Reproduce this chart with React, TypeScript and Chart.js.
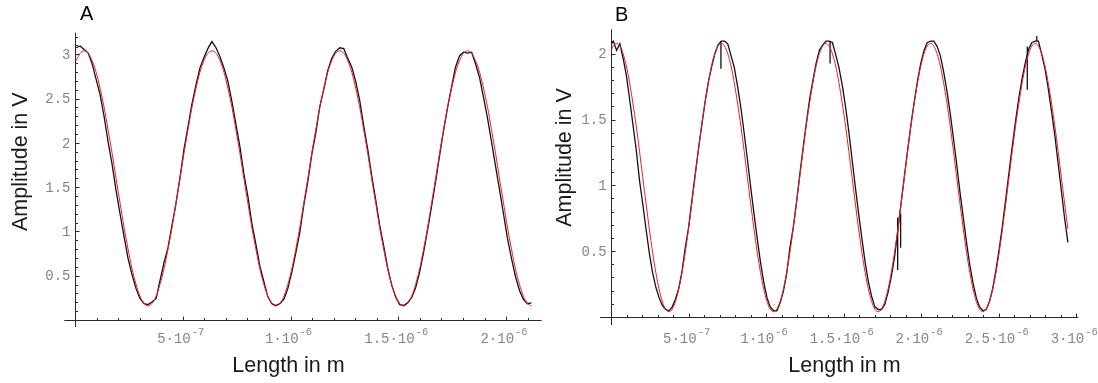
import React, { useEffect, useRef } from 'react';
import { Chart, registerables } from 'chart.js';
Chart.register(...registerables);

// ---------- Panel A (lengths in micrometres, amplitudes in V) ----------
const lengthA_um = [
  0.003, 0.021, 0.040, 0.059, 0.077, 0.096, 0.114, 0.133, 0.151, 0.170,
  0.188, 0.207, 0.225, 0.244, 0.262, 0.281, 0.299, 0.318, 0.336, 0.355,
  0.374, 0.392, 0.411, 0.429, 0.448, 0.466, 0.485, 0.503, 0.522, 0.540,
  0.559, 0.577, 0.596, 0.614, 0.633, 0.652, 0.670, 0.689, 0.707, 0.726,
  0.744, 0.763, 0.781, 0.800, 0.818, 0.837, 0.855, 0.874, 0.892, 0.911,
  0.929, 0.948, 0.967, 0.985, 1.004, 1.022, 1.041, 1.059, 1.078, 1.096,
  1.115, 1.133, 1.152, 1.170, 1.189, 1.207, 1.226, 1.245, 1.263, 1.282,
  1.300, 1.319, 1.337, 1.356, 1.374, 1.393, 1.411, 1.430, 1.448, 1.467,
  1.485, 1.504, 1.522, 1.541, 1.560, 1.578, 1.597, 1.615, 1.634, 1.652,
  1.671, 1.689, 1.708, 1.726, 1.745, 1.763, 1.782, 1.800, 1.819, 1.838,
  1.856, 1.875, 1.893, 1.912, 1.930, 1.949, 1.967, 1.986, 2.004, 2.023,
  2.041, 2.060, 2.078, 2.097, 2.115,
];
const fitA = [
  2.935, 3.017,
  3.045, 3.017, 2.935, 2.802, 2.623, 2.405, 2.156, 1.886, 1.605, 1.324, 1.054, 0.805, 0.587, 0.408, 0.275, 0.193,
  0.165, 0.193, 0.275, 0.408, 0.587, 0.805, 1.054, 1.324, 1.605, 1.886, 2.156, 2.405, 2.623, 2.802, 2.935, 3.017,
  3.045, 3.017, 2.935, 2.802, 2.623, 2.405, 2.156, 1.886, 1.605, 1.324, 1.054, 0.805, 0.587, 0.408, 0.275, 0.193,
  0.165, 0.193, 0.275, 0.408, 0.587, 0.805, 1.054, 1.324, 1.605, 1.886, 2.156, 2.405, 2.623, 2.802, 2.935, 3.017,
  3.045, 3.017, 2.935, 2.802, 2.623, 2.405, 2.156, 1.886, 1.605, 1.324, 1.054, 0.805, 0.587, 0.408, 0.275, 0.193,
  0.165, 0.193, 0.275, 0.408, 0.587, 0.805, 1.054, 1.324, 1.605, 1.886, 2.156, 2.405, 2.623, 2.802, 2.935, 3.017,
  3.045, 3.017, 2.935, 2.802, 2.623, 2.405, 2.156, 1.886, 1.605, 1.324, 1.054, 0.805, 0.587, 0.408, 0.275, 0.193,
  0.165,
];
const measA = [
  3.08, 3.10, 3.06, 3.02, 2.90, 2.72, 2.55, 2.30, 2.02, 1.76, 1.47, 1.20, 0.95, 0.70, 0.52, 0.36, 0.25, 0.19, 0.18,
  0.21, 0.25, 0.45, 0.66, 0.82, 1.08, 1.32, 1.62, 1.93, 2.19, 2.44, 2.66, 2.85, 2.97, 3.07, 3.15,
  3.08, 2.98, 2.85, 2.70, 2.47, 2.22, 1.96, 1.66, 1.40, 1.10, 0.86, 0.62, 0.44, 0.27, 0.19, 0.17,
  0.19, 0.24, 0.36, 0.55, 0.76, 1.00, 1.30, 1.57, 1.87, 2.12, 2.41, 2.61, 2.82, 2.96, 3.04, 3.08,
  3.07, 2.96, 2.86, 2.70, 2.48, 2.20, 1.93, 1.64, 1.36, 1.08, 0.84, 0.60, 0.40, 0.27, 0.18, 0.17,
  0.20, 0.26, 0.37, 0.55, 0.77, 1.03, 1.29, 1.57, 1.86, 2.15, 2.40, 2.64, 2.86, 2.99, 3.03, 3.02,
  3.03, 2.90, 2.74, 2.52, 2.28, 2.02, 1.74, 1.48, 1.20, 0.93, 0.70, 0.50, 0.34, 0.24, 0.19, 0.20,
];

// ---------- Panel B ----------
const lengthB_um = [
  0.000, 0.011, 0.032, 0.053, 0.074, 0.095, 0.116, 0.137, 0.159, 0.180,
  0.201, 0.222, 0.243, 0.264, 0.285, 0.306, 0.327, 0.348, 0.370, 0.391,
  0.412, 0.433, 0.454, 0.475, 0.496, 0.517, 0.538, 0.559, 0.580, 0.602,
  0.623, 0.644, 0.665, 0.686, 0.707, 0.728, 0.749, 0.770, 0.791, 0.812,
  0.834, 0.855, 0.876, 0.897, 0.918, 0.939, 0.960, 0.981, 1.002, 1.023,
  1.045, 1.066, 1.087, 1.108, 1.129, 1.150, 1.171, 1.192, 1.213, 1.234,
  1.255, 1.277, 1.298, 1.319, 1.340, 1.361, 1.382, 1.403, 1.424, 1.445,
  1.466, 1.487, 1.509, 1.530, 1.551, 1.572, 1.593, 1.614, 1.635, 1.656,
  1.677, 1.698, 1.720, 1.741, 1.762, 1.783, 1.804, 1.825, 1.846, 1.867,
  1.888, 1.909, 1.930, 1.952, 1.973, 1.994, 2.015, 2.036, 2.057, 2.078,
  2.099, 2.120, 2.141, 2.163, 2.184, 2.205, 2.226, 2.247, 2.268, 2.289,
  2.310, 2.331, 2.352, 2.373, 2.395, 2.416, 2.437, 2.458, 2.479, 2.500,
  2.521, 2.542, 2.563, 2.584, 2.605, 2.627, 2.648, 2.669, 2.690, 2.711,
  2.732, 2.753, 2.774, 2.795, 2.816, 2.837, 2.859, 2.880, 2.901, 2.922,
  2.943,
];
const fitB = [
  2.038, 2.063,
  2.083, 2.063, 2.005, 1.911, 1.784, 1.630, 1.453, 1.262, 1.063, 0.864, 0.673, 0.496, 0.342, 0.215, 0.121, 0.063,
  0.043, 0.063, 0.121, 0.215, 0.342, 0.496, 0.673, 0.864, 1.063, 1.262, 1.453, 1.630, 1.784, 1.911, 2.005, 2.063,
  2.083, 2.063, 2.005, 1.911, 1.784, 1.630, 1.453, 1.262, 1.063, 0.864, 0.673, 0.496, 0.342, 0.215, 0.121, 0.063,
  0.043, 0.063, 0.121, 0.215, 0.342, 0.496, 0.673, 0.864, 1.063, 1.262, 1.453, 1.630, 1.784, 1.911, 2.005, 2.063,
  2.083, 2.063, 2.005, 1.911, 1.784, 1.630, 1.453, 1.262, 1.063, 0.864, 0.673, 0.496, 0.342, 0.215, 0.121, 0.063,
  0.043, 0.063, 0.121, 0.215, 0.342, 0.496, 0.673, 0.864, 1.063, 1.262, 1.453, 1.630, 1.784, 1.911, 2.005, 2.063,
  2.083, 2.063, 2.005, 1.911, 1.784, 1.630, 1.453, 1.262, 1.063, 0.864, 0.673, 0.496, 0.342, 0.215, 0.121, 0.063,
  0.043, 0.063, 0.121, 0.215, 0.342, 0.496, 0.673, 0.864, 1.063, 1.262, 1.453, 1.630, 1.784, 1.911, 2.005, 2.063,
  2.083, 2.063, 2.005, 1.911, 1.784, 1.630, 1.453, 1.262, 1.063, 0.864, 0.673,
];
const measB = [
  2.08, 2.10, 2.03, 2.08, 1.97, 1.84, 1.66, 1.47, 1.27, 1.04, 0.86, 0.67, 0.49, 0.34, 0.23, 0.15, 0.09, 0.06,
  0.05, 0.08, 0.14, 0.22, 0.35, 0.53, 0.68, 0.88, 1.08, 1.27, 1.45, 1.63, 1.78, 1.90, 2.00, 2.07,
  2.10, 2.10, 2.08, 1.99, 1.90, 1.76, 1.59, 1.40, 1.20, 0.99, 0.79, 0.60, 0.42, 0.27, 0.15, 0.08,
  0.05, 0.05, 0.11, 0.20, 0.33, 0.53, 0.68, 0.87, 1.08, 1.28, 1.47, 1.66, 1.80, 1.93, 2.03, 2.07,
  2.10, 2.10, 2.09, 2.00, 1.90, 1.77, 1.60, 1.41, 1.20, 0.99, 0.79, 0.60, 0.42, 0.27, 0.16, 0.08,
  0.06, 0.06, 0.10, 0.19, 0.31, 0.46, 0.66, 0.87, 1.07, 1.27, 1.46, 1.64, 1.80, 1.93, 2.03, 2.09,
  2.10, 2.10, 2.06, 1.99, 1.87, 1.72, 1.55, 1.36, 1.16, 0.95, 0.76, 0.57, 0.40, 0.26, 0.15, 0.08,
  0.05, 0.06, 0.12, 0.22, 0.36, 0.52, 0.70, 0.90, 1.10, 1.30, 1.49, 1.67, 1.82, 1.94, 2.04, 2.09,
  2.10, 2.10, 2.00, 1.89, 1.74, 1.57, 1.38, 1.17, 0.96, 0.75, 0.57,
];
// short glitches in the measured trace of B
const glitchB_um = [0.705, 1.409, 1.845, 1.864, 2.681, 2.742];
const glitchB_from = [2.10, 2.10, 0.76, 0.79, 2.06, 2.10];
const glitchB_to = [1.89, 1.93, 0.36, 0.53, 1.73, 2.14];

// ---------- tick labels ----------
const yTicksA = [0.5, 1, 1.5, 2, 2.5, 3];
const yTickLabelsA = ['0.5', '1', '1.5', '2', '2.5', '3'];
const xTicksA = [5e-7, 1e-6, 1.5e-6, 2e-6];
const xTickMantA = ['5·10', '1·10', '1.5·10', '2·10'];
const xTickExpA = ['-7', '-6', '-6', '-6'];

const yTicksB = [0.5, 1, 1.5, 2];
const yTickLabelsB = ['0.5', '1', '1.5', '2'];
const xTicksB = [5e-7, 1e-6, 1.5e-6, 2e-6, 2.5e-6, 3e-6];
const xTickMantB = ['5·10', '1·10', '1.5·10', '2·10', '2.5·10', '3·10'];
const xTickExpB = ['-7', '-6', '-6', '-6', '-6', '-6'];

const RED = '#ee1c25';
const BLACK = '#111111';
const TICK_FONT = '"Liberation Mono", "DejaVu Sans Mono", monospace';
const TITLE_FONT = '"Liberation Sans", Arial, sans-serif';

const mathAxes = {
  id: 'mathAxes',
  beforeDatasetsDraw(chart: any, _a: any, o: any) {
    const ctx = chart.ctx;
    const xs = chart.scales.x;
    const ys = chart.scales.y;
    const ca = chart.chartArea;
    const x0 = Math.round(xs.getPixelForValue(0) - 0.5) + 0.5;
    const y0 = Math.round(ys.getPixelForValue(0) - 0.5) + 0.5;
    ctx.save();
    ctx.strokeStyle = '#2a2a2a';
    ctx.lineWidth = 1;
    ctx.beginPath();
    ctx.moveTo(ca.left, y0);
    ctx.lineTo(ca.right, y0);
    ctx.moveTo(x0, ca.top);
    ctx.lineTo(x0, ca.bottom);
    for (let i = 1; i <= o.xMinorCount; i++) {
      const px = Math.round(xs.getPixelForValue(i * o.xMinorStep) - 0.5) + 0.5;
      const len = i % 5 === 0 ? 4 : 2.5;
      ctx.moveTo(px, y0);
      ctx.lineTo(px, y0 - len);
    }
    for (let i = 1; i <= o.yMinorCount; i++) {
      const py = Math.round(ys.getPixelForValue(i * o.yMinorStep) - 0.5) + 0.5;
      const len = i % 5 === 0 ? 4 : 2.5;
      ctx.moveTo(x0, py);
      ctx.lineTo(x0 + len, py);
    }
    ctx.stroke();
    ctx.restore();
  },
  afterDraw(chart: any, _a: any, o: any) {
    const ctx = chart.ctx;
    const xs = chart.scales.x;
    const ys = chart.scales.y;
    const x0 = xs.getPixelForValue(0);
    ctx.save();
    ctx.fillStyle = '#858585';
    // y tick labels
    ctx.font = `14px ${TICK_FONT}`;
    ctx.textAlign = 'right';
    ctx.textBaseline = 'middle';
    o.yTicks.forEach((v: number, i: number) => {
      ctx.fillText(o.yLabels[i], x0 - 5, ys.getPixelForValue(v) + 0.5);
    });
    // x tick labels with exponent
    ctx.textAlign = 'left';
    ctx.textBaseline = 'alphabetic';
    o.xTicks.forEach((v: number, i: number) => {
      ctx.font = `14px ${TICK_FONT}`;
      const wm = ctx.measureText(o.xMant[i]).width;
      ctx.font = `10.5px ${TICK_FONT}`;
      const we = ctx.measureText(o.xExp[i]).width;
      const start = xs.getPixelForValue(v) - 2.5 - (wm + we + 1) / 2;
      ctx.font = `14px ${TICK_FONT}`;
      ctx.fillText(o.xMant[i], start, o.xLabelBase);
      ctx.font = `10.5px ${TICK_FONT}`;
      ctx.fillText(o.xExp[i], start + wm + 1, o.xLabelBase - 8.5);
    });
    // titles
    ctx.fillStyle = '#1a1a1a';
    ctx.font = `21.5px ${TITLE_FONT}`;
    ctx.textAlign = 'center';
    ctx.fillText('Length in m', o.xTitleX, o.xTitleBase);
    ctx.save();
    ctx.translate(o.yTitleBase, o.yTitleY);
    ctx.rotate(-Math.PI / 2);
    ctx.fillText('Amplitude in V', 0, 0);
    ctx.restore();
    ctx.textAlign = 'left';
    ctx.fillStyle = '#000';
    ctx.font = `20px ${TITLE_FONT}`;
    ctx.fillText(o.letter, o.letterX, o.letterBase);
    ctx.restore();
  },
};

function toPoints(xs: number[], ys: number[]) {
  return xs.map((v, i) => ({ x: v * 1e-6, y: ys[i] }));
}

function glitchPoints(xs: number[], from: number[], to: number[]) {
  const pts: any[] = [];
  xs.forEach((v, i) => {
    pts.push({ x: v * 1e-6, y: from[i] });
    pts.push({ x: v * 1e-6, y: to[i] });
    pts.push({ x: v * 1e-6 + 1e-10, y: null });
  });
  return pts;
}

function Panel(props: { cfg: any; left: number }) {
  const ref = useRef<HTMLCanvasElement | null>(null);
  useEffect(() => {
    if (!ref.current) return;
    const c = props.cfg;
    const datasets: any[] = [
      {
        label: 'Fit',
        data: c.fit,
        borderColor: RED,
        borderWidth: 1,
        pointRadius: 0,
        cubicInterpolationMode: 'monotone',
        order: 0,
      },
      {
        label: 'Measured',
        data: c.meas,
        borderColor: BLACK,
        borderWidth: 1.3,
        pointRadius: 0,
        tension: 0,
        order: 1,
      },
    ];
    if (c.glitch) {
      datasets.push({
        label: 'Glitches',
        data: c.glitch,
        borderColor: BLACK,
        borderWidth: 1.3,
        pointRadius: 0,
        spanGaps: false,
        order: 2,
      });
    }
    const chart = new Chart(ref.current, {
      type: 'line',
      data: { datasets },
      options: {
        animation: false,
        responsive: false,
        events: [],
        layout: { padding: c.padding },
        scales: {
          x: { type: 'linear', min: c.xMin, max: c.xMax, display: false },
          y: { type: 'linear', min: c.yMin, max: c.yMax, display: false },
        },
        plugins: {
          legend: { display: false },
          tooltip: { enabled: false },
          mathAxes: c.axes,
        } as any,
      },
      plugins: [mathAxes],
    } as any);
    return () => chart.destroy();
  }, []);
  return (
    <canvas
      ref={ref}
      width={549}
      height={383}
      style={{ position: 'absolute', left: props.left, top: 0, width: 549, height: 383 }}
    />
  );
}

const cfgA = {
  fit: toPoints(lengthA_um, fitA),
  meas: toPoints(lengthA_um, measA),
  glitch: null,
  padding: { left: 64.3, right: 7.3, top: 32.7, bottom: 56 },
  xMin: -0.052e-6,
  xMax: 2.163e-6,
  yMin: -0.073,
  yMax: 3.25,
  axes: {
    xMinorStep: 1e-7,
    xMinorCount: 21,
    yMinorStep: 0.1,
    yMinorCount: 32,
    yTicks: yTicksA,
    yLabels: yTickLabelsA,
    xTicks: xTicksA,
    xMant: xTickMantA,
    xExp: xTickExpA,
    xLabelBase: 343,
    xTitleX: 288.5,
    xTitleBase: 372,
    yTitleBase: 27,
    yTitleY: 161.7,
    letter: 'A',
    letterX: 80,
    letterBase: 20,
  },
};

const cfgB = {
  fit: toPoints(lengthB_um, fitB),
  meas: toPoints(lengthB_um, measB),
  glitch: glitchPoints(glitchB_um, glitchB_from, glitchB_to),
  padding: { left: 51, right: 19.7, top: 29.3, bottom: 58 },
  xMin: -0.075e-6,
  xMax: 3.01e-6,
  yMin: -0.058,
  yMax: 2.19,
  axes: {
    xMinorStep: 1e-7,
    xMinorCount: 30,
    yMinorStep: 0.1,
    yMinorCount: 21,
    yTicks: yTicksB,
    yLabels: yTickLabelsB,
    xTicks: xTicksB,
    xMant: xTickMantB,
    xExp: xTickExpB,
    xLabelBase: 343,
    xTitleX: 295.5,
    xTitleBase: 372,
    yTitleBase: 21.5,
    yTitleY: 157.5,
    letter: 'B',
    letterX: 66,
    letterBase: 20.7,
  },
};

export default function App() {
  return (
    <div style={{ position: 'absolute', left: 0, top: 0, width: 1098, height: 383, background: '#fff' }}>
      <Panel cfg={cfgA} left={0} />
      <Panel cfg={cfgB} left={549} />
    </div>
  );
}
